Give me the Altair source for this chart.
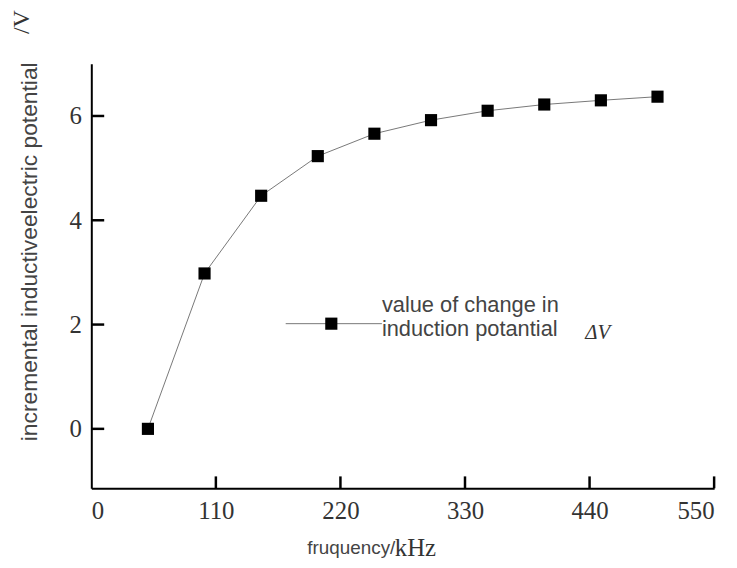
import altair as alt
import pandas as pd

freq = [50, 100, 150, 200, 250, 300, 350, 400, 450, 500]
delta_v = [0.0, 2.98, 4.47, 5.23, 5.66, 5.92, 6.10, 6.22, 6.30, 6.37]
x_ticks = [0, 110, 220, 330, 440, 550]
y_ticks = [0, 2, 4, 6]
legend_line1 = "value of change in"
legend_line2 = "induction potantial"

W, H = 628, 428
df = pd.DataFrame({"f": freq, "v": delta_v})
xs = alt.Scale(domain=[0, 550], nice=False, zero=False)
ys = alt.Scale(domain=[-1.14, 7.0], nice=False, zero=False)

serif = "Liberation Serif"
sans = "Liberation Sans"

x_axis = alt.Axis(values=x_ticks, title="fruquency/", titleFontSize=19,
                  titleAlign="right", titleAnchor="start", titleX=306, titleY=60,
                  titleBaseline="middle")
y_axis = alt.Axis(values=y_ticks, title="incremental inductiveelectric potential",
                  titleFontSize=23, titleX=-62, titleY=189, titleAlign="center",
                  titleBaseline="middle", titleAngle=270)

tick_df_y = pd.DataFrame({"ty": y_ticks})
tick_df_x = pd.DataFrame({"tx": x_ticks[1:]})

yt = alt.Chart(tick_df_y).mark_rule(color="black", strokeWidth=2.5).encode(
    y=alt.Y("ty:Q", scale=ys, axis=y_axis), x=alt.value(0), x2=alt.value(13)
)
xt = alt.Chart(tick_df_x).mark_rule(color="black", strokeWidth=2.5).encode(
    x=alt.X("tx:Q", scale=xs, axis=x_axis), y=alt.value(H), y2=alt.value(H - 12)
)

base = alt.Chart(df)
line = base.mark_line(color="#777", strokeWidth=1).encode(
    x=alt.X("f:Q", scale=xs, axis=x_axis),
    y=alt.Y("v:Q", scale=ys, axis=y_axis),
)
pts = base.mark_square(filled=True, color="black", size=150, opacity=1).encode(
    x=alt.X("f:Q", scale=xs, axis=x_axis), y=alt.Y("v:Q", scale=ys, axis=y_axis)
)

one = pd.DataFrame({"a": [0]})
leg_line = alt.Chart(one).mark_rule(color="#777", strokeWidth=1).encode(
    x=alt.value(196), x2=alt.value(293), y=alt.value(262)
)
leg_sq = alt.Chart(one).mark_square(
    filled=True, color="black", size=150, opacity=1
).encode(x=alt.value(242), y=alt.value(262))
leg_t1 = alt.Chart(one).mark_text(
    font=sans, fontSize=22, color="#444", align="left", baseline="middle", text=legend_line1
).encode(x=alt.value(293), y=alt.value(243))
leg_t2 = alt.Chart(one).mark_text(
    font=sans, fontSize=22, color="#444", align="left", baseline="middle", text=legend_line2
).encode(x=alt.value(293), y=alt.value(267))
leg_dv = alt.Chart(one).mark_text(
    font=serif, fontSize=21, fontStyle="italic", color="#333", align="left",
    baseline="middle", text="ΔV"
).encode(x=alt.value(498), y=alt.value(271))

vtxt = alt.Chart(one).mark_text(
    font=serif, fontSize=24, color="#333", angle=270, align="center", baseline="middle",
    text="/V"
).encode(x=alt.value(-70), y=alt.value(-42))
khz = alt.Chart(one).mark_text(
    font=serif, fontSize=25, color="#333", align="left", baseline="middle", text="kHz"
).encode(x=alt.value(306), y=alt.value(H + 60))

chart = alt.layer(yt, xt, line, pts, leg_line, leg_sq, leg_t1, leg_t2, leg_dv, vtxt, khz).properties(
    width=W, height=H,
    autosize=alt.AutoSizeParams(type="none"),
    padding={"left": 84, "top": 54, "right": 15, "bottom": 70},
).configure(background="white").configure_view(stroke=None).configure_axis(
    ticks=False, grid=False, domainColor="black", domainWidth=2,
    labelFont=serif, labelFontSize=25, labelColor="#333", labelPadding=10,
    titleFont=sans, titleFontWeight="normal", titleColor="#444",
)

chart.save("out.html", embed_options={"renderer": "svg", "actions": False})
